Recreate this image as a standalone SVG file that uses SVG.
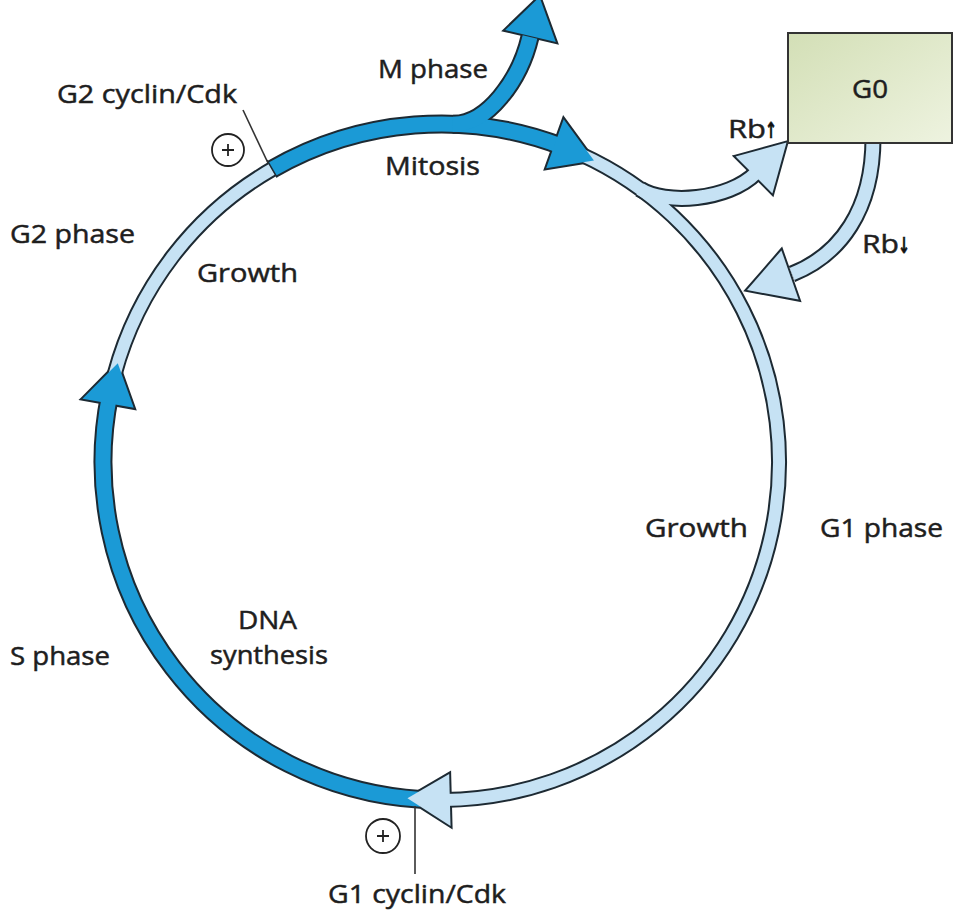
<svg xmlns="http://www.w3.org/2000/svg" width="966" height="915" viewBox="0 0 966 915">
<defs>
<linearGradient id="g0fill" x1="0" y1="0" x2="1" y2="1">
<stop offset="0" stop-color="#d3dfb6"/>
<stop offset="1" stop-color="#eef3e0"/>
</linearGradient>
<style>
.ol{fill:none;stroke:#1d2a33;stroke-linecap:butt}
.olL{stroke-width:16}
.olD{stroke-width:19}
.olB{stroke-width:17}
.fl{fill:none;stroke-linecap:butt}
.fL{stroke:#c6e2f4;stroke-width:12}
.fB{stroke:#c6e2f4;stroke-width:13}
.fD{stroke:#1b9ad6;stroke-width:15}
.ahO{fill:#1d2a33;stroke:#1d2a33;stroke-width:4;stroke-linejoin:miter;stroke-miterlimit:6}
.ahL{fill:#c6e2f4}
.ahD{fill:#1b9ad6}
.lbl{font-family:"Open Sans","Liberation Sans",sans-serif;font-size:26px;fill:#1e1e1e;stroke:#1e1e1e;stroke-width:0.5}
.arr{font-family:"DejaVu Sans",sans-serif;font-size:22px;font-weight:bold;fill:#111111;stroke:#111111;stroke-width:0.6}
.thin{stroke:#333;stroke-width:1.6;fill:none}
</style>
</defs>
<rect width="966" height="915" fill="#ffffff"/>

<g id="connectors">
  <g id="outlines">
    <path class="ol olD" d="M 420.37 799.37 A 338 338 0 0 1 109.79 394.61"/>
    <path class="ol olL" d="M 114.52 374.52 A 338 338 0 0 1 272 169.29"/>
    <path class="ol olD" d="M 272 169.29 A 338 338 0 0 1 562.13 146.45"/>
    <path class="ol olL" d="M 581.17 154.42 A 338 338 0 0 1 443.95 799.99"/>
    <path class="ol olD" d="M 452.8 124.2 C 487 125, 520 80, 530 37"/>
    <path class="ol olB" d="M 640 189 C 665 205, 728 201, 756 173"/>
    <path class="ol olB" d="M 873 138 C 873 210, 840 255, 792 274"/>
    <polygon class="ahO" points="82.53,398.81 117.78,363.17 133.73,407.82"/>
    <polygon class="ahO" points="563.70,119.30 593.92,160.57 546.18,168.26"/>
    <polygon class="ahO" points="450.53,825.88 407.43,798.33 449.17,773.89"/>
    <polygon class="ahO" points="505.2,30.1 539.5,-3 555.8,41.9"/>
    <polygon class="ahO" points="735.6,156.6 786.5,142.5 772.4,193.4"/>
    <polygon class="ahO" points="781.4,250.4 747,290 798.6,299.6"/>
  </g>
  <g id="fills">
    <path id="s-phase" class="fl fD" d="M 420.37 799.37 A 338 338 0 0 1 109.79 394.61"/>
    <path id="g2-phase" class="fl fL" d="M 114.52 374.52 A 338 338 0 0 1 272 169.29"/>
    <path id="m-phase" class="fl fD" d="M 272 169.29 A 338 338 0 0 1 562.13 146.45"/>
    <path id="g1-phase" class="fl fL" d="M 581.17 154.42 A 338 338 0 0 1 443.95 799.99"/>
    <path id="m-exit" class="fl fD" d="M 452.8 124.2 C 487 125, 520 80, 530 37"/>
    <path id="to-g0" class="fl fB" d="M 640 189 C 665 205, 728 201, 756 173"/>
    <path id="from-g0" class="fl fB" d="M 873 138 C 873 210, 840 255, 792 274"/>
    <polygon class="ahD" points="82.53,398.81 117.78,363.17 133.73,407.82"/>
    <polygon class="ahD" points="563.70,119.30 593.92,160.57 546.18,168.26"/>
    <polygon class="ahL" points="450.53,825.88 407.43,798.33 449.17,773.89"/>
    <polygon class="ahD" points="505.2,30.1 539.5,-3 555.8,41.9"/>
    <polygon class="ahL" points="735.6,156.6 786.5,142.5 772.4,193.4"/>
    <polygon class="ahL" points="781.4,250.4 747,290 798.6,299.6"/>
  </g>
  <line x1="277" y1="177.4" x2="267" y2="160.1" stroke="#1d2a33" stroke-width="1.5"/>
  <line class="thin" x1="243" y1="110" x2="268" y2="163"/>
  <line class="thin" x1="415" y1="806" x2="415" y2="874"/>
</g>

<g id="node-G0">
  <rect x="788" y="33" width="164" height="110" fill="url(#g0fill)" stroke="#333" stroke-width="2"/>
  <text class="lbl" x="852" y="98" textLength="36" lengthAdjust="spacingAndGlyphs">G0</text>
</g>

<g id="regulator-G2">
  <circle cx="228" cy="150" r="16" fill="#fff" stroke="#222" stroke-width="1.8"/>
  <path d="M 222 150 H 234 M 228 144 V 156" stroke="#222" stroke-width="1.8"/>
  <text class="lbl" x="57" y="103" textLength="180" lengthAdjust="spacingAndGlyphs">G2 cyclin/Cdk</text>
</g>

<g id="regulator-G1">
  <circle cx="383" cy="836" r="17" fill="#fff" stroke="#222" stroke-width="1.8"/>
  <path d="M 377 836 H 389 M 383 830 V 842" stroke="#222" stroke-width="1.8"/>
  <text class="lbl" x="328" y="903" textLength="178" lengthAdjust="spacingAndGlyphs">G1 cyclin/Cdk</text>
</g>

<g id="labels">
  <text class="lbl" x="378" y="78" textLength="110" lengthAdjust="spacingAndGlyphs">M phase</text>
  <text class="lbl" x="385" y="175" textLength="95" lengthAdjust="spacingAndGlyphs">Mitosis</text>
  <text class="lbl" x="10" y="243" textLength="125" lengthAdjust="spacingAndGlyphs">G2 phase</text>
  <text class="lbl" x="197" y="282" textLength="101" lengthAdjust="spacingAndGlyphs">Growth</text>
  <text class="lbl" x="645" y="537" textLength="103" lengthAdjust="spacingAndGlyphs">Growth</text>
  <text class="lbl" x="820" y="537" textLength="123" lengthAdjust="spacingAndGlyphs">G1 phase</text>
  <text class="lbl" x="238" y="629" textLength="59" lengthAdjust="spacingAndGlyphs">DNA</text>
  <text class="lbl" x="210" y="664" textLength="118" lengthAdjust="spacingAndGlyphs">synthesis</text>
  <text class="lbl" x="10" y="665" textLength="100" lengthAdjust="spacingAndGlyphs">S phase</text>
  <text class="lbl" x="728" y="138" textLength="38" lengthAdjust="spacingAndGlyphs">Rb</text>
  <text class="arr" x="765" y="138" textLength="12" lengthAdjust="spacingAndGlyphs">↑</text>
  <text class="lbl" x="862" y="253" textLength="37" lengthAdjust="spacingAndGlyphs">Rb</text>
  <text class="arr" x="898" y="253" textLength="12" lengthAdjust="spacingAndGlyphs">↓</text>
</g>
</svg>
